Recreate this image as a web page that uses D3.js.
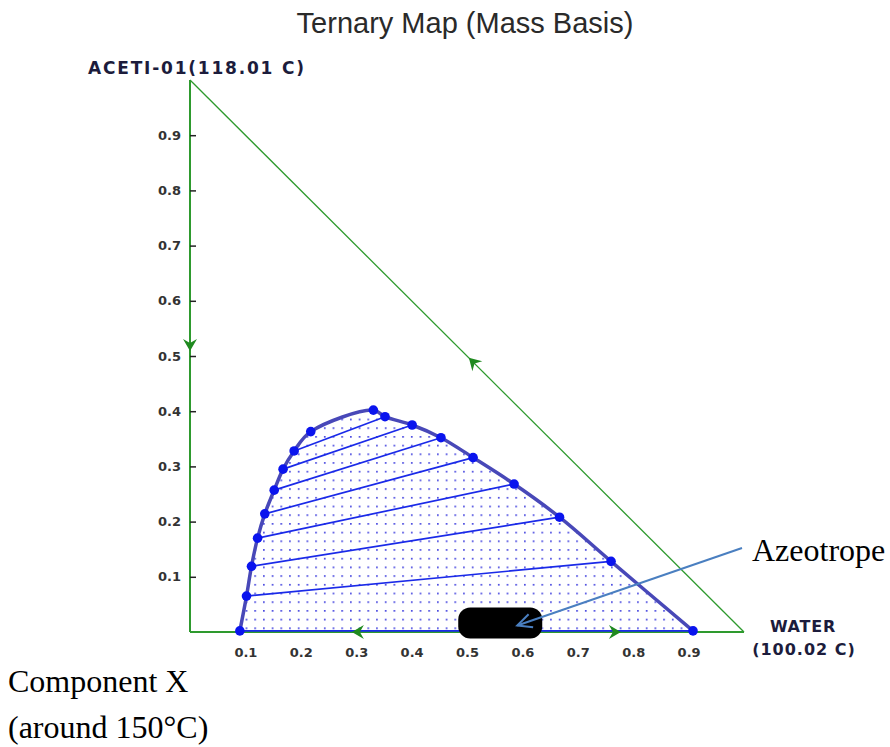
<!DOCTYPE html>
<html>
<head>
<meta charset="utf-8">
<script src="https://cdn.jsdelivr.net/npm/d3@7"></script>
<style>
  body { margin: 0; background: #fff; }
  svg { display: block; }
</style>
</head>
<body>
<div id="chart"></div>
<script>
// binodal curve points (mass fraction water, mass fraction acetic acid)
const binodalX = [0.090, 0.102, 0.111, 0.122, 0.135, 0.152, 0.168, 0.188, 0.218, 0.331,
                  0.352, 0.401, 0.453, 0.511, 0.585, 0.667, 0.760, 0.908];
const binodalY = [0.002, 0.065, 0.119, 0.170, 0.214, 0.257, 0.295, 0.328, 0.363, 0.402,
                  0.390, 0.375, 0.352, 0.316, 0.268, 0.208, 0.128, 0.002];

// tie lines as index pairs into the binodal arrays
const tieLines = [[0, 17], [1, 16], [2, 15], [3, 14], [4, 13], [5, 12], [6, 11], [7, 10]];

// residue curve direction arrows on the triangle edges: [x, y, angle deg]
const edgeArrows = [[0.0, 0.52, 90], [0.511, 0.489, -135], [0.303, 0.0, 180], [0.767, 0.0, 0]];

const tickValues = [0.1, 0.2, 0.3, 0.4, 0.5, 0.6, 0.7, 0.8, 0.9];
const azeotrope = [0.56, 0.01];

const width = 890, height = 747;

const svg = d3.select("#chart").append("svg")
    .attr("width", width)
    .attr("height", height);

const x = d3.scaleLinear().domain([0, 1]).range([190, 744]);
const y = d3.scaleLinear().domain([0, 1]).range([632, 80]);

const green = "#2e9a2e";

// dotted fill pattern for the two-phase region
const defs = svg.append("defs");
const pat = defs.append("pattern")
    .attr("id", "dots")
    .attr("patternUnits", "userSpaceOnUse")
    .attr("width", 8.7)
    .attr("height", 8.7)
    .attr("x", 2)
    .attr("y", 1);
pat.append("rect")
    .attr("x", 0).attr("y", 0)
    .attr("width", 1.7).attr("height", 1.7)
    .attr("fill", "#4a4ae0");

// title
svg.append("text")
    .attr("x", 465)
    .attr("y", 33)
    .attr("text-anchor", "middle")
    .attr("font-family", "Liberation Sans, Arial, sans-serif")
    .attr("font-size", "29px")
    .attr("fill", "#2a2a2a")
    .text("Ternary Map (Mass Basis)");

// triangle
svg.append("line")
    .attr("x1", x(0)).attr("y1", y(1))
    .attr("x2", x(0)).attr("y2", y(0))
    .attr("stroke", green).attr("stroke-width", 2);
svg.append("line")
    .attr("x1", x(0)).attr("y1", y(0))
    .attr("x2", x(1)).attr("y2", y(0))
    .attr("stroke", green).attr("stroke-width", 2);
svg.append("line")
    .attr("x1", x(0)).attr("y1", y(1))
    .attr("x2", x(1)).attr("y2", y(0))
    .attr("stroke", green).attr("stroke-width", 1.3);

// axes
const tickFont = "DejaVu Sans, Verdana, sans-serif";

const yAxis = d3.axisLeft(y)
    .tickValues(tickValues)
    .tickFormat(d3.format(".1f"))
    .tickSizeInner(-6)
    .tickSizeOuter(0)
    .tickPadding(9);

const gy = svg.append("g")
    .attr("transform", `translate(${x(0)},0)`)
    .call(yAxis);
gy.select(".domain").remove();
gy.selectAll(".tick line").attr("stroke", "#222").attr("stroke-width", 1.5);
gy.selectAll(".tick text")
    .attr("font-family", tickFont)
    .attr("font-weight", "bold")
    .attr("font-size", "13px")
    .attr("fill", "#333");

const xAxis = d3.axisBottom(x)
    .tickValues(tickValues)
    .tickFormat(d3.format(".1f"))
    .tickSize(0)
    .tickPadding(16);

const gx = svg.append("g")
    .attr("transform", `translate(0,${y(0)})`)
    .call(xAxis);
gx.select(".domain").remove();
gx.selectAll(".tick text")
    .attr("font-family", tickFont)
    .attr("font-weight", "bold")
    .attr("font-size", "13px")
    .attr("fill", "#333");

// binodal region
const pts = binodalX.map((d, i) => [x(d), y(binodalY[i])]);
const curve = d3.line().curve(d3.curveCatmullRom.alpha(0.5));

svg.append("path")
    .attr("d", curve(pts) + "Z")
    .attr("fill", "url(#dots)")
    .attr("stroke", "none");

// tie lines
svg.selectAll(".tie")
    .data(tieLines)
    .enter()
    .append("line")
    .attr("class", "tie")
    .attr("x1", d => x(binodalX[d[0]]))
    .attr("y1", d => y(binodalY[d[0]]))
    .attr("x2", d => x(binodalX[d[1]]))
    .attr("y2", d => y(binodalY[d[1]]))
    .attr("stroke", "#1a2ae8")
    .attr("stroke-width", 1.7);

// binodal curve
svg.append("path")
    .attr("d", curve(pts))
    .attr("fill", "none")
    .attr("stroke", "#4848b8")
    .attr("stroke-width", 3.5);

svg.selectAll(".pt")
    .data(pts)
    .enter()
    .append("circle")
    .attr("class", "pt")
    .attr("cx", d => d[0])
    .attr("cy", d => d[1])
    .attr("r", 4.8)
    .attr("fill", "#0a14ee");

// residue curve arrows
svg.selectAll(".earrow")
    .data(edgeArrows)
    .enter()
    .append("path")
    .attr("class", "earrow")
    .attr("transform", d => `translate(${x(d[0])},${y(d[1])}) rotate(${d[2]})`)
    .attr("d", "M6,0 L-6,-7 L-2,0 L-6,7 Z")
    .attr("fill", "#1f8a1f");

// azeotrope marker
svg.append("rect")
    .attr("x", x(azeotrope[0]) - 42)
    .attr("y", y(azeotrope[1]) - 19)
    .attr("width", 84)
    .attr("height", 31)
    .attr("rx", 12)
    .attr("fill", "#000");

// annotation arrow
const tip = [x(azeotrope[0]) + 17, y(azeotrope[1]) - 1];
const tail = [742, 548];
const ang = Math.atan2(tail[1] - tip[1], tail[0] - tip[0]);
svg.append("line")
    .attr("x1", tail[0]).attr("y1", tail[1])
    .attr("x2", tip[0]).attr("y2", tip[1])
    .attr("stroke", "#4a7fc0").attr("stroke-width", 2);
svg.append("path")
    .attr("d", d3.line()([
        [tip[0] + 16 * Math.cos(ang - 0.45), tip[1] + 16 * Math.sin(ang - 0.45)],
        tip,
        [tip[0] + 16 * Math.cos(ang + 0.45), tip[1] + 16 * Math.sin(ang + 0.45)]
    ]))
    .attr("fill", "none")
    .attr("stroke", "#4a7fc0")
    .attr("stroke-width", 2);

// component labels
svg.append("text")
    .attr("x", 88).attr("y", 74)
    .attr("font-family", tickFont)
    .attr("font-weight", "bold")
    .attr("font-size", "17px")
    .attr("letter-spacing", "1.8px")
    .attr("fill", "#1c1c3c")
    .text("ACETI-01(118.01 C)");

svg.append("text")
    .attr("x", 803).attr("y", 632)
    .attr("text-anchor", "middle")
    .attr("font-family", tickFont)
    .attr("font-weight", "bold")
    .attr("font-size", "16px")
    .attr("letter-spacing", "0.8px")
    .attr("fill", "#1c1c3c")
    .text("WATER");
svg.append("text")
    .attr("x", 804).attr("y", 655)
    .attr("text-anchor", "middle")
    .attr("font-family", tickFont)
    .attr("font-weight", "bold")
    .attr("font-size", "16px")
    .attr("letter-spacing", "1px")
    .attr("fill", "#1c1c3c")
    .text("(100.02 C)");

const serif = "Liberation Serif, Times New Roman, serif";
svg.append("text")
    .attr("x", 752).attr("y", 561)
    .attr("font-family", serif)
    .attr("font-size", "32px")
    .attr("fill", "#000")
    .text("Azeotrope");
svg.append("text")
    .attr("x", 8).attr("y", 692)
    .attr("font-family", serif)
    .attr("font-size", "32px")
    .attr("fill", "#000")
    .text("Component X");
svg.append("text")
    .attr("x", 8).attr("y", 738)
    .attr("font-family", serif)
    .attr("font-size", "32px")
    .attr("fill", "#000")
    .text("(around 150°C)");
</script>
</body>
</html>
